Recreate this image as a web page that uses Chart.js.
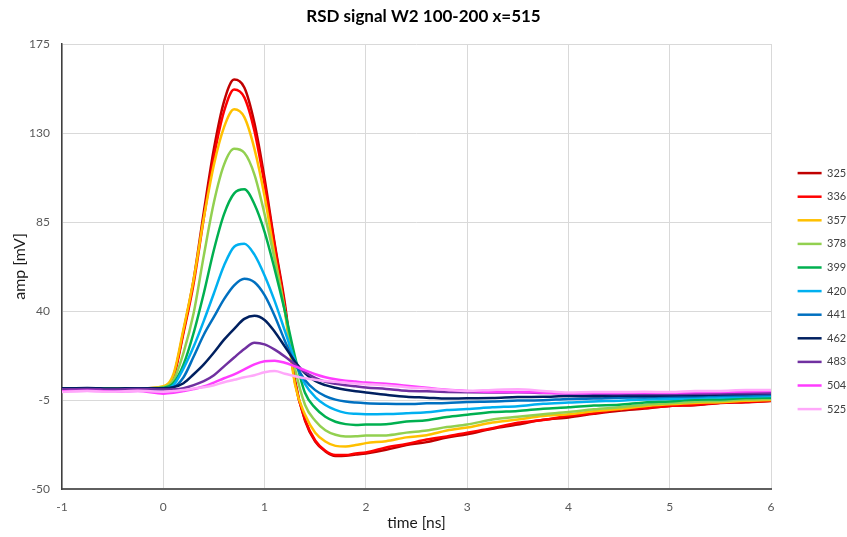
<!DOCTYPE html>
<html>
<head>
<meta charset="utf-8">
<script src="https://cdn.jsdelivr.net/npm/chart.js@4.4.1/dist/chart.umd.min.js"></script>
<style>
    html, body { margin: 0; padding: 0; background: #ffffff; }
    #wrap { width: 847px; height: 537px; }
</style>
</head>
<body>
<div id="wrap"><canvas id="rsd-chart" width="847" height="537"></canvas></div>
<script>
 // time axis (ns), denser sampling around the pulse
const times = [-1, -0.75, -0.5, -0.25, 0, 0.1, 0.2, 0.3, 0.4, 0.5, 0.6, 0.7, 0.8, 0.9, 1.0, 1.1, 1.2, 1.3, 1.4, 1.5,
    1.6, 1.7, 1.8, 1.9, 2.0, 2.2, 2.4, 2.6, 2.8, 3.0, 3.25, 3.5, 3.75, 4.0, 4.25, 4.5, 4.75, 5.0, 5.25, 5.5, 5.75, 6.0];

const seriesNames = ['325', '336', '357', '378', '399', '420', '441', '462', '483', '504', '525'];
const seriesColors = ['#C00000', '#FF0000', '#FFC000', '#92D050', '#00B050', '#00B0F0',
    '#0070C0', '#002060', '#7030A0', '#FF3CFF', '#FFA8FA'];

 // amplitudes in mV, one value per entry of times
const amp325 = [0.8, 0.9, 0.7, 0.9, 1.5, 7, 30, 56, 90, 122, 146, 157, 153, 135, 107, 74, 44, 5, -15.5, -26, -31, -33.3, -33.2, -32.6, -32,
    -30.2, -27.8, -26.3, -24, -22.3, -19.5, -17.4, -15, -13.8, -12, -10.4, -9.3, -8, -7.7, -6.5, -6.2, -5.5];
const amp336 = [0.6, 0.8, 0.9, 0.7, 1.3, 6.5, 29, 54, 87, 118, 141, 152, 148, 131, 104, 73, 42, 4, -15, -25.5, -30.7, -32.8, -32.8, -32, -31.5,
    -29, -27.2, -25, -23.4, -21.5, -19.3, -16.5, -15.1, -13, -11.7, -9.8, -9.1, -8, -7.4, -6.4, -6, -5.4];
const amp357 = [0.9, 0.7, 1.0, 0.8, 2, 8, 31, 56, 87, 114, 133, 142, 138, 122, 98, 68, 40, 3, -12.5, -21.5, -26, -28.2, -28.5, -27.8, -26.8,
    -25.8, -23.9, -22.8, -20.4, -18.9, -16.4, -14.9, -13.1, -12.2, -10.7, -9.6, -8.1, -7.2, -6.5, -6.1, -5.4, -5];
const amp378 = [0.8, 0.9, 0.7, 0.9, 1.5, 5, 19, 39, 68, 95, 114, 122, 120, 109, 89, 66, 40, 11, -7.5, -15.5, -20.3, -22.6, -23.4, -23.3, -23,
    -22.9, -21.5, -20.4, -18.7, -17.4, -14.9, -13.5, -12.2, -11.1, -9.7, -8.7, -7.5, -6.7, -5.9, -5.5, -4.8, -4.5];
const amp399 = [0.7, 0.9, 0.8, 0.6, 1.2, 3.5, 13, 29, 49, 71, 89, 99.5, 101.5, 94, 80, 61, 40, 17, -1.5, -9, -13.5, -16, -17.2, -17.6, -17.4,
    -17.2, -15.9, -15.2, -13.6, -12.5, -11.1, -10.5, -9.4, -8.7, -7.8, -7.4, -6.3, -5.7, -4.9, -4.7, -4, -3.8];
const amp420 = [0.3, -0.3, 0.1, 0.2, 0.6, 2.5, 11, 22, 35, 49, 63, 72.5, 74, 68.5, 58, 45, 30, 15, 3, -3.5, -7.5, -10, -11.5, -12, -12.2,
    -12.1, -11.7, -11.2, -10.1, -9.6, -8.7, -8.1, -6.9, -6.3, -5.7, -5.4, -4.7, -4.5, -3.9, -3.7, -3.2, -3];
const amp441 = [0.5, 0.7, 0.4, 0.6, 0.8, 1.5, 6.5, 17, 28, 37, 46, 53, 56.3, 54.5, 48, 37.5, 25, 13.5, 5, 0, -3, -4.8, -5.8, -6.3, -6.6,
    -6.9, -7, -6.7, -6.5, -6, -5.8, -5.3, -5.1, -4.5, -4.3, -3.8, -3.7, -3.4, -3.2, -2.8, -2.7, -2.4];
const amp462 = [0.9, 1.1, 0.8, 1.0, 1.0, 1.5, 3.5, 8, 13, 19, 25.5, 31, 36, 37.6, 35.5, 29.5, 22, 14.5, 8.5, 4.6, 2.5, 1.2, 0.2, -0.6, -1.2,
    -2.4, -3.4, -3.8, -4.3, -4.1, -4, -3.5, -3.4, -3, -3.1, -2.9, -3, -2.7, -2.6, -2.2, -2, -1.6];
const amp483 = [0.4, 0.6, 0.3, 0.5, 0.3, 0.4, 1, 2.5, 4.5, 7.5, 12, 16.5, 20.8, 23.9, 23.1, 20.5, 17, 13, 9, 6.2, 4.2, 3.2, 2.5, 1.9, 1.3,
    0.6, -0.3, -0.6, -0.9, -1.1, -1.2, -1.1, -1.4, -1.7, -1.8, -2, -2, -2, -1.9, -1.7, -1.6, -1.5];
const amp504 = [-0.6, -0.3, -0.7, -0.4, -1.8, -1.4, -0.5, 0.5, 1.8, 3.8, 6, 8, 10.5, 13, 14.6, 14.9, 13.8, 12, 10, 8, 6.5, 5.5, 4.8, 4.3, 3.8,
    3.2, 2.2, 1.2, 0.2, -0.4, -0.9, -0.9, -1.3, -1.6, -1.5, -1.4, -1.3, -1.3, -1.1, -0.9, -0.7, -0.5];
const amp525 = [-0.9, -0.5, -0.8, -0.3, -0.8, -0.4, 0, 0.8, 1.5, 2.5, 4, 5.2, 6.5, 7.5, 9, 9.6, 8.3, 7, 6, 5.2, 4.6, 4.2, 3.7, 3.3, 3,
    2.4, 1.5, 0.8, 0.1, -0.4, 0.1, 0.4, -0.4, -1.2, -1, -1, -0.8, -1, -0.5, -0.4, 0, 0];

const seriesValues = [amp325, amp336, amp357, amp378, amp399, amp420, amp441, amp462, amp483, amp504, amp525];

const xTicks = [-1, 0, 1, 2, 3, 4, 5, 6];
const yTicks = [-50, -5, 40, 85, 130, 175];

const fontFamily = 'Lato, "Liberation Sans", sans-serif';

 // build the datasets; later series get a lower order so they are painted on top
const datasets = seriesNames.map((name, i) => {
    return {
        label: name,
        data: times.map((t, k) => ({ x: t, y: seriesValues[i][k] })),
        borderColor: seriesColors[i],
        backgroundColor: seriesColors[i],
        borderWidth: 2.5,
        pointRadius: 0,
        cubicInterpolationMode: 'monotone',
        fill: false,
        order: seriesNames.length - i
    };
});

const ctx = document.getElementById('rsd-chart').getContext('2d');
new Chart(ctx, {
    type: 'line',
    data: { datasets: datasets },
    options: {
        responsive: false,
        animation: false,
        layout: { padding: 0 },
        plugins: {
            title: {
                display: true,
                text: 'RSD signal W2 100-200 x=515',
                color: '#000000',
                font: { family: fontFamily, size: 17, weight: 'bold' },
                padding: { top: 6.8, bottom: 16.8 }
            },
            legend: {
                position: 'right',
                maxWidth: 62,
                labels: {
                    usePointStyle: true,
                    pointStyle: 'line',
                    pointStyleWidth: 24,
                    boxWidth: 24,
                    padding: 12.6,
                    color: '#404040',
                    font: { family: fontFamily, size: 11 },
                    sort: (a, b) => a.datasetIndex - b.datasetIndex
                },
                title: {
                    display: true,
                    text: '',
                    font: { size: 1 },
                    padding: { top: 44, bottom: 0 }
                }
            },
            tooltip: { enabled: false }
        },
        scales: {
            x: {
                type: 'linear',
                min: -1,
                max: 6,
                afterBuildTicks: scale => { scale.ticks = xTicks.map(v => ({ value: v })); },
                afterFit: scale => { scale.height = 48; },
                grid: { color: '#d9d9d9', lineWidth: 1, drawTicks: false },
                border: { display: true, color: '#5f5f5f', width: 2 },
                ticks: {
                    padding: 11,
                    color: '#595959',
                    font: { family: fontFamily, size: 12 },
                    maxRotation: 0
                },
                title: {
                    display: true,
                    text: 'time [ns]',
                    color: '#1a1a1a',
                    font: { family: fontFamily, size: 15.5 },
                    padding: { top: 0, bottom: 5 }
                }
            },
            y: {
                min: -50,
                max: 175,
                afterBuildTicks: scale => { scale.ticks = yTicks.map(v => ({ value: v })); },
                afterFit: scale => { scale.width = 62; },
                grid: { color: '#d9d9d9', lineWidth: 1, drawTicks: false },
                border: { display: true, color: '#3f3f3f', width: 1.5 },
                ticks: {
                    padding: 12,
                    color: '#595959',
                    font: { family: fontFamily, size: 12 }
                },
                title: {
                    display: true,
                    text: 'amp [mV]',
                    color: '#1a1a1a',
                    font: { family: fontFamily, size: 16 },
                    padding: { top: 10.5, bottom: 0 }
                }
            },
             // empty spacer between plot and legend
            spacer: {
                type: 'linear',
                position: 'right',
                display: true,
                grid: { display: false },
                border: { display: false },
                ticks: { display: false },
                afterFit: scale => { scale.width = 14; }
            }
        }
    }
});
</script>
</body>
</html>
